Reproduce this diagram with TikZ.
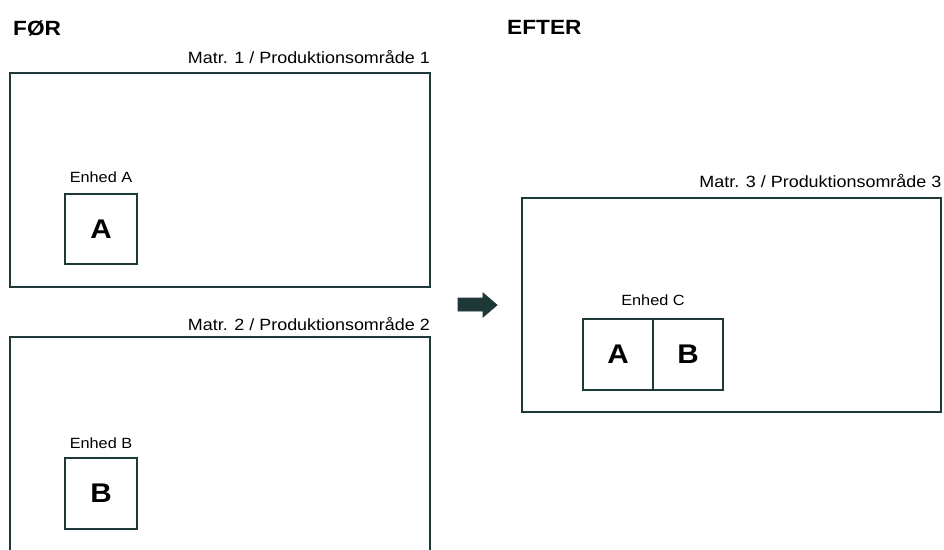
\documentclass[tikz,border=0pt]{standalone}
\usepackage{fontspec}
\setmainfont{Liberation Sans}[FakeStretch=1.1]
\definecolor{frame}{RGB}{30,56,56}
\begin{document}
\begin{tikzpicture}[x=1pt,y=-1pt,
  area/.style={draw=frame,line width=2.6pt,rectangle,minimum width=420pt,minimum height=214pt,inner sep=0pt},
  unit/.style={draw=frame,line width=2.6pt,rectangle,minimum width=72pt,minimum height=70pt,inner sep=0pt,font=\fontsize{27}{27}\selectfont\bfseries},
  cell/.style={draw=frame,line width=2.6pt,rectangle,minimum width=70pt,minimum height=71pt,inner sep=0pt,font=\fontsize{27}{27}\selectfont\bfseries},
  arealabel/.style={anchor=base east,inner sep=0pt,font=\fontsize{16.3}{16.3}\selectfont},
  unitlabel/.style={anchor=base,inner sep=0pt,font=\fontsize{14.8}{14.8}\selectfont},
  heading/.style={anchor=base west,inner sep=0pt,font=\fontsize{20.6}{20.6}\selectfont\bfseries}]
\useasboundingbox (0,0) rectangle (944,549);
\clip (0,0) rectangle (944,549);
\fill[white] (0,0) rectangle (944,549);

\node[heading] (foer) at (13,35) {FØR};
\node[heading] (efter) at (507,34) {EFTER};

% area 1
\node[area] (box1) at (220,180) {};
\node[arealabel] (lab1) at (430,63) {Matr. 1 / Produktionsområde 1};
\node[unit] (unitA) at (101,229) {A};
\node[unitlabel] (labA) at (101,182) {Enhed A};

% area 2 (continues below the picture)
\node[area,minimum height=260pt] (box2) at (220,467) {};
\node[arealabel] (lab2) at (430,330) {Matr. 2 / Produktionsområde 2};
\node[unit,minimum height=71pt] (unitB) at (101,493.5) {B};
\node[unitlabel] (labB) at (101,448) {Enhed B};

% arrow
\fill[frame,draw=frame,line width=0.8pt,line join=miter]
  (458,298) -- (483,298) -- (483,293) -- (497,305) -- (483,317) -- (483,311) -- (458,311) -- cycle;

% area 3
\node[area,minimum width=419pt] (box3) at (731.5,305) {};
\node[arealabel] (lab3) at (941.5,187) {Matr. 3 / Produktionsområde 3};
\node[cell] (cellA) at (618,354.5) {A};
\node[cell] (cellB) at (688,354.5) {B};
\node[unitlabel] (labC) at (653,305) {Enhed C};
\end{tikzpicture}
\end{document}
